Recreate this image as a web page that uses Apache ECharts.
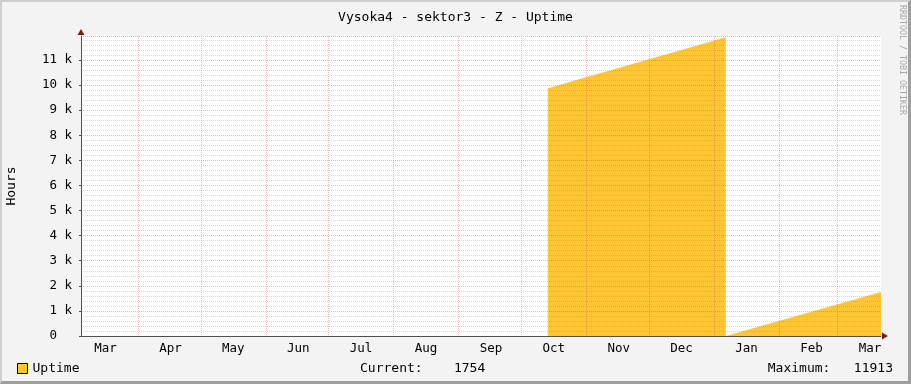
<!DOCTYPE html>
<html>
<head>
<meta charset="utf-8">
<script src="https://cdn.jsdelivr.net/npm/echarts@6/dist/echarts.min.js"></script>
<style>
  html, body { margin: 0; padding: 0; background: #F3F3F3; }
  #wrap { position: relative; width: 911px; height: 384px; }
  #chart { position: absolute; left: 0; top: 0; width: 911px; height: 384px; }
  #frame { position: absolute; left: 0; top: 0; width: 911px; height: 384px; box-sizing: border-box;
           border-top: 2px solid #CFCFCF; border-left: 2px solid #CFCFCF;
           border-right: 3px solid #9E9E9E; border-bottom: 3px solid #9E9E9E; pointer-events: none; }
</style>
</head>
<body>
<div id="wrap"><div id="chart"></div><div id="frame"></div></div>
<script>
// ---- data ----
const TITLE = 'Vysoka4 - sektor3 - Z - Uptime';
const SERIES_NAME = 'Uptime';
const Y_NAME = 'Hours';
const axisStart = '2020-03-04T19:00:00';
const axisEnd = '2021-03-21T17:00:00';
const times = ['2020-10-13T16:00:00', '2021-01-06T14:00:00', '2021-01-06T14:00:00', '2021-03-21T17:00:00'];
const uptimeHours = [9875, 11913, 0, 1754];
const monthStarts = ['2020-04-01', '2020-05-01', '2020-06-01', '2020-07-01', '2020-08-01', '2020-09-01',
                     '2020-10-01', '2020-11-01', '2020-12-01', '2021-01-01', '2021-02-01', '2021-03-01'];
const monthLabelDates = ['2020-03-16', '2020-04-16', '2020-05-16', '2020-06-16', '2020-07-16', '2020-08-16',
                         '2020-09-16', '2020-10-16', '2020-11-16', '2020-12-16', '2021-01-16', '2021-02-16', '2021-03-16'];
const monthLabels = ['Mar', 'Apr', 'May', 'Jun', 'Jul', 'Aug', 'Sep', 'Oct', 'Nov', 'Dec', 'Jan', 'Feb', 'Mar'];
const yMax = 11960;
const yInterval = 1000;

// ---- helpers ----
function ts(s) {
  const m = s.match(/(\d+)-(\d+)-(\d+)(?:T(\d+):(\d+):(\d+))?/);
  return new Date(+m[1], +m[2] - 1, +m[3], +(m[4] || 0), +(m[5] || 0), +(m[6] || 0)).getTime();
}
const labelTs = monthLabelDates.map(d => ts(d) + 12 * 3600 * 1000);
const labelMap = {};
labelTs.forEach((t, i) => { labelMap[t] = monthLabels[i]; });
const seriesData = times.map((t, i) => [ts(t), uptimeHours[i]]);
const current = uptimeHours[uptimeHours.length - 1];
const maximum = Math.max.apply(null, uptimeHours);

const FONT = 'DejaVu Sans Mono';
const MAJOR = { color: 'rgba(240,70,70,0.42)', width: 1, type: [1, 1] };
const MINOR = { color: 'rgba(140,140,140,0.35)', width: 1, type: [1, 1] };
const chart = echarts.init(document.getElementById('chart'), null, { renderer: 'canvas' });
chart.setOption({
  backgroundColor: '#F3F3F3',
  animation: false,
  textStyle: { fontFamily: FONT },
  title: {
    text: TITLE, left: 'center', top: 6,
    textStyle: { fontFamily: FONT, fontSize: 13, fontWeight: 'normal', color: '#000' }
  },
  grid: { left: 81, top: 36, width: 800, height: 300, show: true, backgroundColor: '#FFFFFF', borderWidth: 0,
          containLabel: false, outerBoundsMode: 'none' },
  legend: {
    data: [SERIES_NAME], left: 17, top: 362, padding: 0, itemWidth: 10, itemHeight: 10, itemGap: 10,
    icon: 'rect',
    itemStyle: { borderColor: '#000', borderWidth: 1 },
    textStyle: { fontFamily: FONT, fontSize: 13, color: '#000' }
  },
  xAxis: [{
    type: 'value', min: ts(axisStart), max: ts(axisEnd), z: 3,
    axisLine: { show: true, lineStyle: { color: '#505050', width: 1 } },
    axisTick: { show: false, customValues: monthStarts.map(ts) },
    axisLabel: {
      customValues: labelTs, margin: 6, fontFamily: FONT, fontSize: 12.5, color: '#000',
      formatter: v => labelMap[v] || ''
    },
    splitLine: { show: true, lineStyle: MAJOR },
    minorSplitLine: { show: false }
  }, {
    type: 'value', min: 0, max: 1, position: 'bottom', z: 4,
    axisLine: { show: true, symbol: ['none', 'triangle'], symbolSize: [7, 6], symbolOffset: [0, 4],
                lineStyle: { color: '#7F1A1A', width: 0 } },
    axisTick: { show: false }, axisLabel: { show: false }, splitLine: { show: false }
  }],
  yAxis: [{
    type: 'value', min: 0, max: yMax, interval: yInterval, z: 3,
    name: Y_NAME, nameLocation: 'middle', nameGap: 63, nameRotate: 90,
    nameTextStyle: { fontFamily: FONT, fontSize: 13, color: '#000' },
    axisLine: { show: true, lineStyle: { color: '#505050', width: 1 } },
    axisTick: { show: true, length: 2, lineStyle: { color: '#505050' } },
    axisLabel: {
      margin: 9, fontFamily: FONT, fontSize: 12.5, color: '#000', showMaxLabel: false,
      formatter: v => v === 0 ? '0  ' : (v / 1000) + ' k'
    },
    splitLine: { show: true, lineStyle: MAJOR },
    minorTick: { show: false, splitNumber: 5 },
    minorSplitLine: { show: true, lineStyle: MINOR }
  }, {
    type: 'value', min: 0, max: 1, position: 'left', z: 4,
    axisLine: { show: true, symbol: ['none', 'triangle'], symbolSize: [7, 6], symbolOffset: [0, 4],
                lineStyle: { color: '#7F1A1A', width: 0 } },
    axisTick: { show: false }, axisLabel: { show: false }, splitLine: { show: false }
  }],
  series: [{
    name: SERIES_NAME, type: 'line', xAxisIndex: 0, yAxisIndex: 0,
    data: seriesData, showSymbol: false, symbol: 'none', z: 2,
    lineStyle: { width: 0, color: '#FEC634' },
    itemStyle: { color: '#FEC634' },
    areaStyle: { color: '#FEC634', opacity: 1 }
  }],
  graphic: [
    { type: 'text', left: 360, top: 362,
      style: { text: 'Current:    ' + current, font: '13px "' + FONT + '"', fill: '#000' } },
    { type: 'text', right: 18, top: 362,
      style: { text: 'Maximum:   ' + maximum, font: '13px "' + FONT + '"', fill: '#000' } },
    { type: 'text', x: 902, y: 5, rotation: -Math.PI / 2,
      style: { text: 'RRDTOOL / TOBI OETIKER', font: '8.3px "' + FONT + '"', fill: '#A8A8A8',
               textAlign: 'left', textVerticalAlign: 'middle' } }
  ]
});
</script>
</body>
</html>
